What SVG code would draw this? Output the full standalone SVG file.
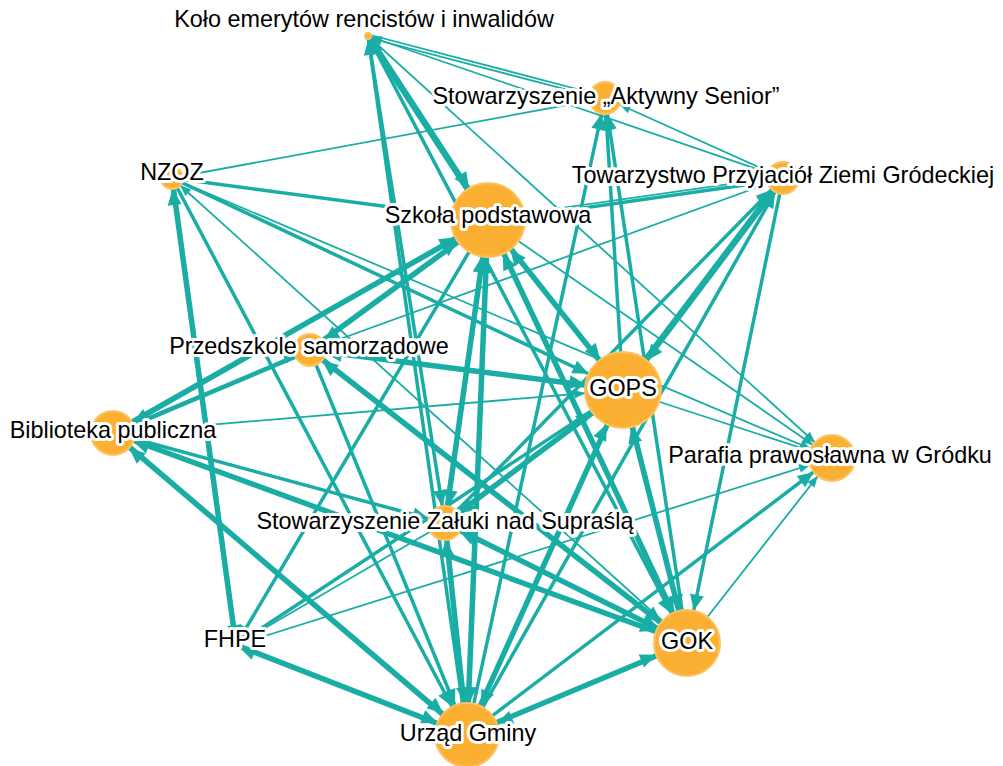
<svg xmlns="http://www.w3.org/2000/svg" width="1003" height="766" viewBox="0 0 1003 766">
<style>
.e line{stroke:#19ada5;fill:none}
.t{stroke-width:1.8}
.w{stroke-width:3.5}
marker path{fill:#19ada5}
.n circle{fill:#fbb034;stroke:#fcc360;stroke-width:2}
.n text{font-family:"Liberation Sans",Arial,sans-serif;font-size:23.4px;fill:#000;stroke:#fff;stroke-width:6;stroke-linejoin:round;paint-order:stroke;text-anchor:middle}
</style>
<defs>
<marker id="wK" markerUnits="userSpaceOnUse" markerWidth="16" markerHeight="14" refX="19" refY="7" orient="auto" style="overflow:visible"><path d="M0,0L16,7L0,14z"/></marker>
<marker id="wA" markerUnits="userSpaceOnUse" markerWidth="16" markerHeight="14" refX="32" refY="7" orient="auto" style="overflow:visible"><path d="M0,0L16,7L0,14z"/></marker>
<marker id="wN" markerUnits="userSpaceOnUse" markerWidth="16" markerHeight="14" refX="27" refY="7" orient="auto" style="overflow:visible"><path d="M0,0L16,7L0,14z"/></marker>
<marker id="wT" markerUnits="userSpaceOnUse" markerWidth="16" markerHeight="14" refX="32" refY="7" orient="auto" style="overflow:visible"><path d="M0,0L16,7L0,14z"/></marker>
<marker id="wS" markerUnits="userSpaceOnUse" markerWidth="16" markerHeight="14" refX="53" refY="7" orient="auto" style="overflow:visible"><path d="M0,0L16,7L0,14z"/></marker>
<marker id="wP" markerUnits="userSpaceOnUse" markerWidth="16" markerHeight="14" refX="32" refY="7" orient="auto" style="overflow:visible"><path d="M0,0L16,7L0,14z"/></marker>
<marker id="wG" markerUnits="userSpaceOnUse" markerWidth="16" markerHeight="14" refX="54" refY="7" orient="auto" style="overflow:visible"><path d="M0,0L16,7L0,14z"/></marker>
<marker id="wB" markerUnits="userSpaceOnUse" markerWidth="16" markerHeight="14" refX="38" refY="7" orient="auto" style="overflow:visible"><path d="M0,0L16,7L0,14z"/></marker>
<marker id="wR" markerUnits="userSpaceOnUse" markerWidth="16" markerHeight="14" refX="39" refY="7" orient="auto" style="overflow:visible"><path d="M0,0L16,7L0,14z"/></marker>
<marker id="wZ" markerUnits="userSpaceOnUse" markerWidth="16" markerHeight="14" refX="33" refY="7" orient="auto" style="overflow:visible"><path d="M0,0L16,7L0,14z"/></marker>
<marker id="wF" markerUnits="userSpaceOnUse" markerWidth="16" markerHeight="14" refX="20" refY="7" orient="auto" style="overflow:visible"><path d="M0,0L16,7L0,14z"/></marker>
<marker id="wO" markerUnits="userSpaceOnUse" markerWidth="16" markerHeight="14" refX="49" refY="7" orient="auto" style="overflow:visible"><path d="M0,0L16,7L0,14z"/></marker>
<marker id="wU" markerUnits="userSpaceOnUse" markerWidth="16" markerHeight="14" refX="48" refY="7" orient="auto" style="overflow:visible"><path d="M0,0L16,7L0,14z"/></marker>
<marker id="tK" markerUnits="userSpaceOnUse" markerWidth="11" markerHeight="9" refX="14" refY="4.5" orient="auto" style="overflow:visible"><path d="M0,0L11,4.5L0,9z"/></marker>
<marker id="tA" markerUnits="userSpaceOnUse" markerWidth="11" markerHeight="9" refX="27" refY="4.5" orient="auto" style="overflow:visible"><path d="M0,0L11,4.5L0,9z"/></marker>
<marker id="tN" markerUnits="userSpaceOnUse" markerWidth="11" markerHeight="9" refX="22" refY="4.5" orient="auto" style="overflow:visible"><path d="M0,0L11,4.5L0,9z"/></marker>
<marker id="tP" markerUnits="userSpaceOnUse" markerWidth="11" markerHeight="9" refX="27" refY="4.5" orient="auto" style="overflow:visible"><path d="M0,0L11,4.5L0,9z"/></marker>
<marker id="tG" markerUnits="userSpaceOnUse" markerWidth="11" markerHeight="9" refX="49" refY="4.5" orient="auto" style="overflow:visible"><path d="M0,0L11,4.5L0,9z"/></marker>
<marker id="tR" markerUnits="userSpaceOnUse" markerWidth="11" markerHeight="9" refX="34" refY="4.5" orient="auto" style="overflow:visible"><path d="M0,0L11,4.5L0,9z"/></marker>
<marker id="tF" markerUnits="userSpaceOnUse" markerWidth="11" markerHeight="9" refX="15" refY="4.5" orient="auto" style="overflow:visible"><path d="M0,0L11,4.5L0,9z"/></marker>
</defs>
<g id="connectors" class="e">
<line class="t" x1="368.4" y1="34.5" x2="605.4" y2="96.5" marker-end="url(#tA)"/>
<line class="t" x1="604.6" y1="99.5" x2="367.6" y2="37.5" marker-end="url(#tK)"/>
<line class="t" x1="783" y1="178" x2="368" y2="36" marker-end="url(#tK)"/>
<line class="t" x1="368" y1="36" x2="832" y2="458" marker-end="url(#tR)"/>
<line class="w" x1="369.3" y1="35.2" x2="489.3" y2="219.2" marker-end="url(#wS)"/>
<line class="w" x1="486.7" y1="220.8" x2="366.7" y2="36.8" marker-end="url(#wK)"/>
<line class="w" x1="467" y1="735" x2="368" y2="36" marker-end="url(#wK)"/>
<line class="w" x1="368" y1="36" x2="687" y2="643" marker-end="url(#wO)"/>
<line class="w" x1="368" y1="36" x2="445" y2="523" marker-end="url(#wZ)"/>
<line class="t" x1="605" y1="98" x2="172" y2="178" marker-end="url(#tN)"/>
<line class="t" x1="783" y1="178" x2="605" y2="98" marker-end="url(#tA)"/>
<line class="w" x1="623" y1="390" x2="605" y2="98" marker-end="url(#wA)"/>
<line class="w" x1="687" y1="643" x2="605" y2="98" marker-end="url(#wA)"/>
<line class="w" x1="467" y1="735" x2="605" y2="98" marker-end="url(#wA)"/>
<line class="w" x1="172" y1="178" x2="488" y2="220" marker-end="url(#wS)"/>
<line class="w" x1="783.2" y1="179.5" x2="488.2" y2="221.5" marker-end="url(#wS)"/>
<line class="t" x1="487.8" y1="218.5" x2="782.8" y2="176.5" marker-end="url(#wT)"/>
<line class="t" x1="783" y1="178" x2="310" y2="350" marker-end="url(#tP)"/>
<line class="w" x1="784.2" y1="178.9" x2="624.2" y2="390.9" marker-end="url(#wG)"/>
<line class="w" x1="621.8" y1="389.1" x2="781.8" y2="177.1" marker-end="url(#wT)"/>
<line class="w" x1="445" y1="523" x2="783" y2="178" marker-end="url(#wT)"/>
<line class="w" x1="783" y1="178" x2="687" y2="643" marker-end="url(#wO)"/>
<line class="w" x1="467" y1="735" x2="783" y2="178" marker-end="url(#wT)"/>
<line class="t" x1="488" y1="220" x2="832" y2="458" marker-end="url(#tR)"/>
<line class="t" x1="172" y1="178" x2="832" y2="458" marker-end="url(#tR)"/>
<line class="t" x1="623" y1="390" x2="832" y2="458" marker-end="url(#tR)"/>
<line class="t" x1="236" y1="645" x2="832" y2="458" marker-end="url(#tR)"/>
<line class="w" x1="467" y1="735" x2="832" y2="458" marker-end="url(#wR)"/>
<line class="t" x1="687" y1="643" x2="832" y2="458" marker-end="url(#tR)"/>
<line class="w" x1="172" y1="178" x2="623" y2="390" marker-end="url(#wG)"/>
<line class="w" x1="172" y1="178" x2="467" y2="735" marker-end="url(#wU)"/>
<line class="t" x1="687" y1="643" x2="172" y2="178" marker-end="url(#tN)"/>
<line class="w" x1="235" y1="645.1" x2="171" y2="178.1" marker-end="url(#wN)"/>
<line class="w" x1="173" y1="177.9" x2="237" y2="644.9" marker-end="url(#wF)"/>
<line class="w" x1="236.4" y1="644.1" x2="467.4" y2="734.1" marker-end="url(#wU)"/>
<line class="w" x1="466.6" y1="735.9" x2="235.6" y2="645.9" marker-end="url(#wF)"/>
<line class="w" x1="687.4" y1="643.9" x2="467.4" y2="735.9" marker-end="url(#wU)"/>
<line class="w" x1="466.6" y1="734.1" x2="686.6" y2="642.1" marker-end="url(#wO)"/>
<line class="w" x1="488.6" y1="220.8" x2="310.6" y2="350.8" marker-end="url(#wP)"/>
<line class="w" x1="309.4" y1="349.2" x2="487.4" y2="219.2" marker-end="url(#wS)"/>
<line class="w" x1="488.5" y1="220.9" x2="113.5" y2="433.9" marker-end="url(#wB)"/>
<line class="w" x1="112.5" y1="432.1" x2="487.5" y2="219.1" marker-end="url(#wS)"/>
<line class="w" x1="310.4" y1="350.9" x2="113.4" y2="433.9" marker-end="url(#wB)"/>
<line class="t" x1="112.6" y1="432.1" x2="309.6" y2="349.1" marker-end="url(#tP)"/>
<line class="w" x1="488.8" y1="219.4" x2="623.8" y2="389.4" marker-end="url(#wG)"/>
<line class="w" x1="622.2" y1="390.6" x2="487.2" y2="220.6" marker-end="url(#wS)"/>
<line class="w" x1="488.9" y1="219.6" x2="687.9" y2="642.6" marker-end="url(#wO)"/>
<line class="w" x1="686.1" y1="643.4" x2="487.1" y2="220.4" marker-end="url(#wS)"/>
<line class="w" x1="489" y1="220" x2="468" y2="735" marker-end="url(#wU)"/>
<line class="w" x1="466" y1="735" x2="487" y2="220" marker-end="url(#wS)"/>
<line class="w" x1="489" y1="220.1" x2="446" y2="523.1" marker-end="url(#wZ)"/>
<line class="w" x1="444" y1="522.9" x2="487" y2="219.9" marker-end="url(#wS)"/>
<line class="w" x1="488" y1="220" x2="236" y2="645" marker-end="url(#wF)"/>
<line class="w" x1="622.9" y1="391" x2="309.9" y2="351" marker-end="url(#wP)"/>
<line class="w" x1="310.1" y1="349" x2="623.1" y2="389" marker-end="url(#wG)"/>
<line class="t" x1="113" y1="433" x2="623" y2="390" marker-end="url(#tG)"/>
<line class="w" x1="623.6" y1="390.8" x2="445.6" y2="523.8" marker-end="url(#wZ)"/>
<line class="w" x1="444.4" y1="522.2" x2="622.4" y2="389.2" marker-end="url(#wG)"/>
<line class="w" x1="623.9" y1="390.4" x2="467.9" y2="735.4" marker-end="url(#wU)"/>
<line class="w" x1="466.1" y1="734.6" x2="622.1" y2="389.6" marker-end="url(#wG)"/>
<line class="w" x1="624" y1="389.8" x2="688" y2="642.8" marker-end="url(#wO)"/>
<line class="w" x1="686" y1="643.2" x2="622" y2="390.2" marker-end="url(#wG)"/>
<line class="w" x1="623" y1="390" x2="236" y2="645" marker-end="url(#wF)"/>
<line class="w" x1="310.6" y1="349.2" x2="687.6" y2="642.2" marker-end="url(#wO)"/>
<line class="w" x1="686.4" y1="643.8" x2="309.4" y2="350.8" marker-end="url(#wP)"/>
<line class="w" x1="310" y1="350" x2="467" y2="735" marker-end="url(#wU)"/>
<line class="w" x1="113.3" y1="432.1" x2="687.3" y2="642.1" marker-end="url(#wO)"/>
<line class="w" x1="686.7" y1="643.9" x2="112.7" y2="433.9" marker-end="url(#wB)"/>
<line class="w" x1="113.6" y1="432.2" x2="467.6" y2="734.2" marker-end="url(#wU)"/>
<line class="w" x1="466.4" y1="735.8" x2="112.4" y2="433.8" marker-end="url(#wB)"/>
<line class="w" x1="113" y1="433" x2="445" y2="523" marker-end="url(#wZ)"/>
<line class="w" x1="446" y1="522.9" x2="468" y2="734.9" marker-end="url(#wU)"/>
<line class="w" x1="466" y1="735.1" x2="444" y2="523.1" marker-end="url(#wZ)"/>
<line class="w" x1="445.4" y1="522.1" x2="687.4" y2="642.1" marker-end="url(#wO)"/>
<line class="w" x1="686.6" y1="643.9" x2="444.6" y2="523.9" marker-end="url(#wZ)"/>
<line class="t" x1="445" y1="523" x2="236" y2="645" marker-end="url(#tF)"/>
</g>
<g id="node-kolo" class="n"><circle cx="368" cy="36" r="3"/><text x="364" y="27">Koło emerytów rencistów i inwalidów</text></g>
<g id="node-aktywny-senior" class="n"><circle cx="605" cy="98" r="16"/><text x="606" y="104">Stowarzyszenie „Aktywny Senior”</text></g>
<g id="node-nzoz" class="n"><circle cx="172" cy="178" r="11"/><text x="172" y="180">NZOZ</text></g>
<g id="node-towarzystwo" class="n"><circle cx="783" cy="178" r="16"/><text x="783" y="183">Towarzystwo Przyjaciół Ziemi Gródeckiej</text></g>
<g id="node-szkola" class="n"><circle cx="488" cy="220" r="37"/><text x="488" y="223">Szkoła podstawowa</text></g>
<g id="node-przedszkole" class="n"><circle cx="310" cy="350" r="16"/><text x="309" y="354">Przedszkole samorządowe</text></g>
<g id="node-gops" class="n"><circle cx="623" cy="390" r="38"/><text x="623" y="396">GOPS</text></g>
<g id="node-biblioteka" class="n"><circle cx="113" cy="433" r="22"/><text x="113" y="438">Biblioteka publiczna</text></g>
<g id="node-parafia" class="n"><circle cx="832" cy="458" r="23"/><text x="830" y="463">Parafia prawosławna w Gródku</text></g>
<g id="node-zaluki" class="n"><circle cx="445" cy="523" r="17"/><text x="445" y="529">Stowarzyszenie Załuki nad Supraślą</text></g>
<g id="node-fhpe" class="n"><circle cx="236" cy="645" r="4"/><text x="235" y="647">FHPE</text></g>
<g id="node-gok" class="n"><circle cx="687" cy="643" r="33"/><text x="687" y="649">GOK</text></g>
<g id="node-urzad" class="n"><circle cx="467" cy="735" r="32"/><text x="468" y="741">Urząd Gminy</text></g>
</svg>
